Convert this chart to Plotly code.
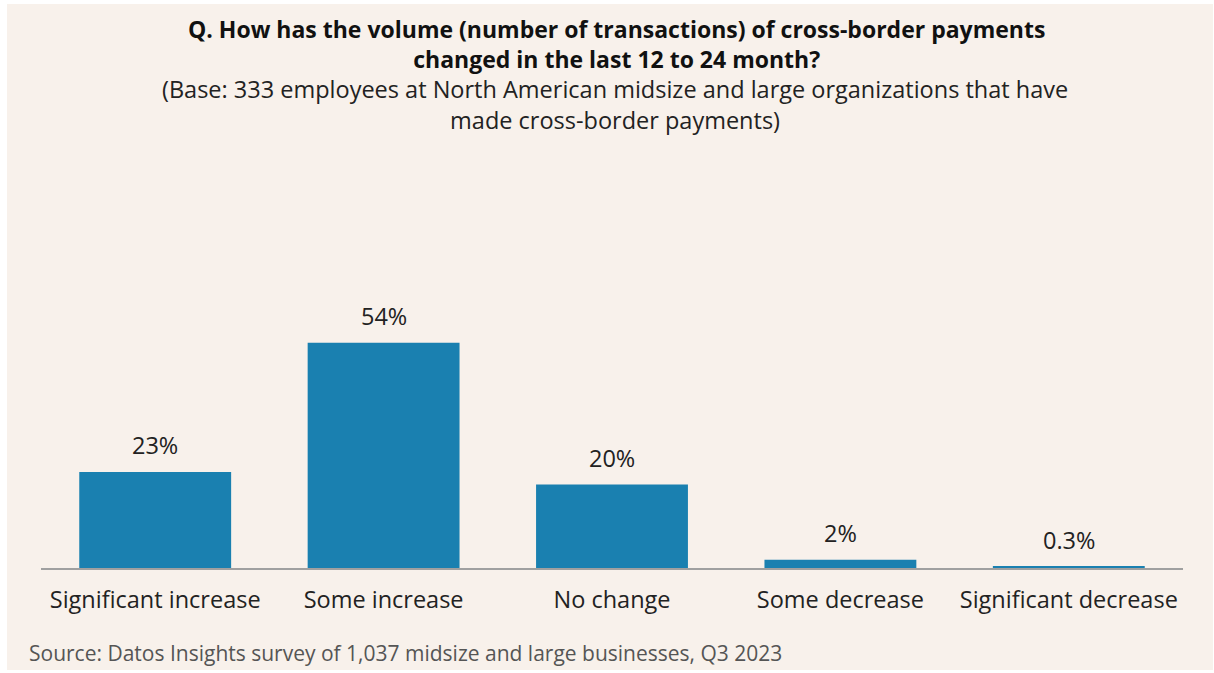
import plotly.graph_objects as go

# Survey responses
categories = ["Significant increase", "Some increase", "No change",
              "Some decrease", "Significant decrease"]
shares = [23, 54, 20, 2, 0.3]
share_labels = ["23%", "54%", "20%", "2%", "0.3%"]

title_lines = [
    "Q. How has the volume (number of transactions) of cross-border payments",
    "changed in the last 12 to 24 month?",
]
subtitle_lines = [
    "(Base: 333 employees at North American midsize and large organizations that have",
    "made cross-border payments)",
]
source_text = "Source: Datos Insights survey of 1,037 midsize and large businesses, Q3 2023"

W, H = 1214, 673
ML, MR, MT, MB = 41, 31, 140, 105
PW, PH = W - ML - MR, H - MT - MB

FONT = "Open Sans"
BG = "#f8f1eb"
BAR = "#1a80b0"


def px_x(x):
    return (x - ML) / PW


def px_y(y):
    return (H - MB - y) / PH


fig = go.Figure(
    go.Bar(
        x=categories,
        y=shares,
        marker=dict(color=BAR, line=dict(width=0)),
        width=0.665,
        hoverinfo="skip",
    )
)

annotations = []
# value labels above bars
for c, v, t in zip(categories, shares, share_labels):
    annotations.append(dict(
        x=c, y=v, xref="x", yref="y", text=t, showarrow=False,
        yanchor="bottom", yshift=9,
        font=dict(family=FONT, size=23.5, color="#222222"),
    ))

# title and subtitle blocks
annotations.append(dict(
    x=px_x(616), y=px_y(43.5), xref="paper", yref="paper",
    text="<br>".join(f"<b>{t}</b>" for t in title_lines), showarrow=False,
    xanchor="center", yanchor="middle", align="center",
    font=dict(family=FONT, size=23, color="#111111"),
))
annotations.append(dict(
    x=px_x(615), y=px_y(104), xref="paper", yref="paper",
    text="<br>".join(subtitle_lines), showarrow=False,
    xanchor="center", yanchor="middle", align="center",
    font=dict(family=FONT, size=23.5, color="#222222"),
))

annotations.append(dict(
    x=px_x(27), y=px_y(653), xref="paper", yref="paper",
    text=source_text, showarrow=False,
    xanchor="left", yanchor="middle",
    font=dict(family=FONT, size=21, color="#555555"),
))

fig.update_layout(
    width=W, height=H,
    margin=dict(l=ML, r=MR, t=MT, b=MB, pad=0),
    paper_bgcolor="white",
    plot_bgcolor="rgba(0,0,0,0)",
    showlegend=False,
    annotations=annotations,
    shapes=[dict(
        type="rect", xref="paper", yref="paper", layer="below",
        x0=px_x(7), x1=px_x(1213), y0=px_y(670), y1=px_y(4),
        fillcolor=BG, line=dict(width=0),
    )],
    xaxis=dict(
        range=[-0.5, 4.5], showgrid=False, zeroline=False,
        showline=True, linecolor="#a0a0a0", linewidth=1.5,
        ticks="", ticklabelstandoff=10,
        tickfont=dict(family=FONT, size=23.5, color="#222222"),
        fixedrange=True,
    ),
    yaxis=dict(
        range=[0, PH / 4.17], showgrid=False, zeroline=False,
        showticklabels=False, showline=False, fixedrange=True,
    ),
)

fig.write_html("out.html")
